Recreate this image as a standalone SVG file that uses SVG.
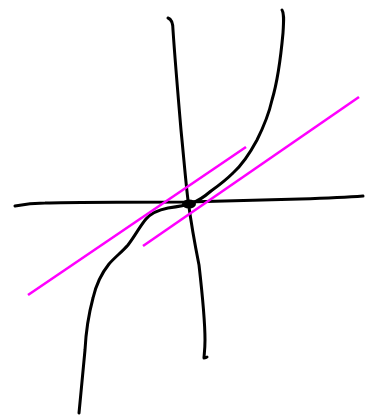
<svg xmlns="http://www.w3.org/2000/svg" width="373" height="415" viewBox="0 0 373 415">
<style>
.ink{fill:none;stroke:#000;stroke-width:3;stroke-linecap:round;stroke-linejoin:round}
.mag{fill:none;stroke:#f0f;stroke-width:2.6;stroke-linecap:butt}
</style>
<rect width="373" height="415" fill="#fff"/>
<g id="axes">
<path class="ink" d="M15,206 C25,204 35,203 45,203 C80,202 130,202 187,202 C230,201 267,200 300,199 C330,198 350,197 363,196"/>
<path class="ink" d="M168,18 C171,19 173,22 173,30 C175,60 178,95 181,130 C184,160 186,185 188,200 C190,215 194,240 199,265 C203,300 205,320 205,340 C205,350 204,356 204,358 C205,358 206,358 207,357"/>
</g>
<g id="curve">
<path class="ink" d="M282,10 C284,13 284,18 283,33 C281,55 278,80 272,100 C268,118 262,130 257,140 C250,153 242,165 233,173 C226,180 218,186 211,191 C204,197 198,201 192,203 C184,206 176,207 168,208 C158,210 151,213 146,219 C140,226 135,236 128,245 C122,252 115,257 109,264 C101,274 96,285 93,298 C89,313 86,330 85,350 C83,372 81,392 79,413"/>
</g>
<g id="lines">
<line class="mag" x1="28" y1="295" x2="246" y2="147"/>
<line class="mag" x1="143" y1="246" x2="359" y2="97"/>
</g>
<g id="origin">
<ellipse cx="189" cy="204" rx="7" ry="4.5" fill="#000"/>
</g>
</svg>
